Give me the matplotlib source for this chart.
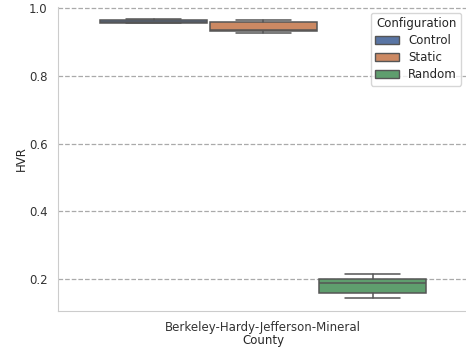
import numpy as np
import matplotlib
matplotlib.use("Agg")
import matplotlib.pyplot as plt
import seaborn as sns
from matplotlib.patches import Patch

sns.set_style("whitegrid")

configs = ["Control", "Static", "Random"]
county = "Berkeley-Hardy-Jefferson-Mineral"
# five-number summaries: whislo, q1, med, q3, whishi
whislo = [0.955, 0.926, 0.145]
q1 = [0.956, 0.933, 0.160]
med = [0.960, 0.934, 0.187]
q3 = [0.964, 0.958, 0.201]
whishi = [0.967, 0.966, 0.216]

palette = sns.color_palette("deep", 3)
colors = [sns.desaturate(c, 0.75) for c in palette]
edge = "#555555"

fig = plt.figure(figsize=(4.66, 3.47), dpi=100)
ax = fig.add_axes([58 / 466, 1 - 311 / 347, 1 - 58 / 466 + 0.005, (311 - 7) / 347])

width = 0.8 / 3
positions = [-width, 0.0, width]
stats = []
for i in range(3):
    stats.append(dict(whislo=whislo[i], q1=q1[i], med=med[i], q3=q3[i],
                      whishi=whishi[i], fliers=[]))

bp = ax.bxp(stats, positions=positions, widths=width * 0.98, patch_artist=True,
            showfliers=False, manage_ticks=False,
            boxprops=dict(edgecolor=edge, linewidth=1.1),
            whiskerprops=dict(color=edge, linewidth=1.1),
            capprops=dict(color=edge, linewidth=1.1),
            medianprops=dict(color=edge, linewidth=1.1))
for patch, c in zip(bp["boxes"], colors):
    patch.set_facecolor(c)
for cap in bp["caps"]:
    x = cap.get_xdata()
    mid = x.mean()
    cap.set_xdata([mid - width * 0.25, mid + width * 0.25])

ax.set_xlim(-0.5, 0.5)
ax.set_ylim(0.1055, 1.003)
ax.set_xticks([0])
ax.set_xticklabels([county])
ax.set_xlabel("County", fontsize=8.5, labelpad=0)
ax.set_ylabel("HVR", fontsize=8.5, labelpad=1)
ax.set_yticks([0.2, 0.4, 0.6, 0.8, 1.0])
ax.tick_params(labelsize=8.5, colors="#333333", pad=4)
ax.xaxis.grid(False)
ax.yaxis.grid(True, linestyle="--", color="#aaaaaa", linewidth=0.9)
ax.set_axisbelow(True)
for s in ["top", "right"]:
    ax.spines[s].set_visible(False)
for s in ["left", "bottom"]:
    ax.spines[s].set_color("#cccccc")

handles = [Patch(facecolor=c, edgecolor=edge, label=l) for c, l in zip(colors, configs)]
ax.legend(handles=handles, title="Configuration", loc="upper right",
          fontsize=8.5, title_fontsize=8.5, bbox_to_anchor=(0.997, 1.0),
          handletextpad=0.8, labelspacing=0.35, borderpad=0.35)

fig.savefig("out.png", dpi=100)
